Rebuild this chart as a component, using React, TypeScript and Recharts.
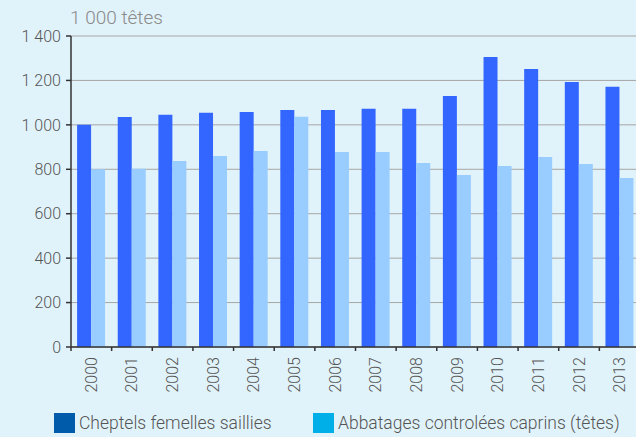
import { Bar, BarChart, CartesianGrid, Legend, XAxis, YAxis } from "recharts";

const years = ["2000", "2001", "2002", "2003", "2004", "2005", "2006", "2007", "2008", "2009", "2010", "2011", "2012", "2013"];
const cheptels = [1000, 1035, 1045, 1054, 1058, 1067, 1067, 1072, 1072, 1130, 1306, 1252, 1193, 1171];
const abbatages = [800, 802, 837, 860, 882, 1036, 878, 878, 828, 774, 815, 855, 824, 761];
const yTicks = [0, 200, 400, 600, 800, 1000, 1200, 1400];

const legendItems = [
  { name: "Cheptels femelles saillies", color: "#005bab" },
  { name: "Abbatages controlées caprins (têtes)", color: "#00aee8" },
];

const data = years.map((y, i) => ({ year: y, cheptels: cheptels[i], abbatages: abbatages[i] }));

const FONT = "Roboto, 'DejaVu Sans', sans-serif";
const BAND = 569 / 14;

const fmt = (v: number) => String(v).replace(/\B(?=(\d{3})+(?!\d))/g, " ");

function YearTick(props: any) {
  const { x, y, payload } = props;
  const left = x - BAND / 2;
  return (
    <g>
      <line x1={left} y1={y - 8} x2={left} y2={y - 4} stroke="#333" strokeWidth={1.5} />
      <text
        x={x}
        y={y + 2}
        transform={`rotate(-90 ${x} ${y + 2})`}
        textAnchor="end"
        dominantBaseline="central"
        fontFamily={FONT}
        fontWeight={300}
        fontSize={16}
        fill="#555"
      >
        {payload.value}
      </text>
    </g>
  );
}

function CustomLegend() {
  return (
    <div style={{ position: "relative", height: 24, fontFamily: FONT, fontWeight: 300, fontSize: 17.5, color: "#555" }}>
      {legendItems.map((it, i) => (
        <div
          key={it.name}
          style={{ position: "absolute", left: i === 0 ? 54 : 313, top: 0, display: "flex", alignItems: "flex-end", whiteSpace: "nowrap" }}
        >
          <span style={{ display: "inline-block", width: 21, height: 20, background: it.color, marginRight: 4 }} />
          <span style={{ lineHeight: "20px" }}>{it.name}</span>
        </div>
      ))}
    </div>
  );
}

export default function App() {
  return (
    <div style={{ position: "fixed", left: 0, top: 0, width: 636, height: 437, overflow: "hidden", background: "#e1f3fa" }}>
      <div style={{ position: "absolute", left: 70, top: 6, fontFamily: FONT, fontWeight: 300, fontSize: 19, color: "#8a8a8a" }}>
        1 000 têtes
      </div>
      <BarChart
        width={660}
        height={437}
        data={data}
        margin={{ top: 36, right: 20, left: 0, bottom: 6 }}
        barCategoryGap="15%"
        barGap={0}
      >
        <CartesianGrid vertical={false} stroke="#a6a6a6" />
        <XAxis
          dataKey="year"
          height={60}
          tickLine={false}
          axisLine={{ stroke: "#333", strokeWidth: 1.5 }}
          tick={<YearTick />}
          interval={0}
          tickSize={0}
          tickMargin={8}
        />
        <YAxis
          width={71}
          domain={[0, 1400]}
          ticks={yTicks}
          tickFormatter={fmt}
          axisLine={{ stroke: "#333", strokeWidth: 1.5 }}
          tickLine={{ stroke: "#333", strokeWidth: 1.5 }}
          tickSize={5}
          tickMargin={5}
          tick={{ fontFamily: FONT, fontWeight: 300, fontSize: 16, fill: "#555" }}
        />
        <Legend
          verticalAlign="bottom"
          content={() => <CustomLegend />}
          wrapperStyle={{ left: 0, bottom: 0, width: 636 }}
        />
        <Bar dataKey="cheptels" fill="#3366ff" isAnimationActive={false} />
        <Bar dataKey="abbatages" fill="#99ccff" isAnimationActive={false} />
      </BarChart>
    </div>
  );
}
